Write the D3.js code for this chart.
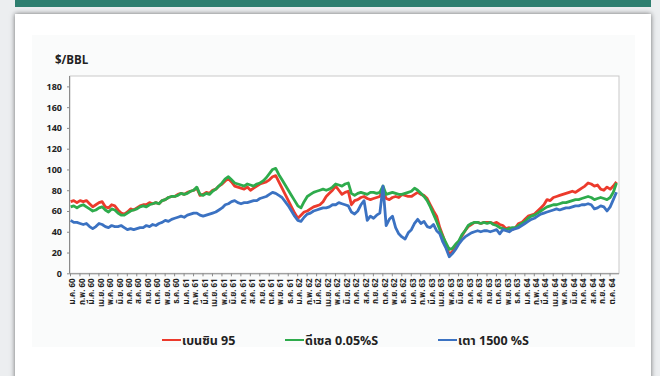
<!DOCTYPE html>
<html>
<head>
<meta charset="utf-8">
<script src="https://cdn.jsdelivr.net/npm/d3@7"></script>
<style>
  html, body { margin: 0; padding: 0; }
  body { width: 660px; height: 376px; overflow: hidden; background: #eceef0; position: relative; }
  #bar { position: absolute; left: 15px; top: 0; width: 636px; height: 7px; background: #2e7f70; }
  #card { position: absolute; left: 15px; top: 14px; width: 636px; height: 380px; background: #fff;
          box-shadow: 0 0 5px rgba(0,0,0,0.55); }
  svg { position: absolute; left: 0; top: 0; }
  text { font-family: Tahoma, "Noto Sans Thai", "Leelawadee UI", "DejaVu Sans", sans-serif; }
</style>
</head>
<body>
<div id="bar"></div>
<div id="card"></div>
<svg id="chart" width="660" height="376"></svg>
<script>
// Thai month abbreviations and Buddhist-era years (2-digit) on the time axis
const monthNames = ["ม.ค.", "ก.พ.", "มี.ค.", "เม.ย.", "พ.ค.", "มิ.ย.", "ก.ค.", "ส.ค.", "ก.ย.", "ต.ค.", "พ.ย.", "ธ.ค."];
const years = ["60", "61", "62", "63", "64"];
const monthCount = 58; // ม.ค. 60 … ต.ค. 64
const samplesPerMonth = 3;

const yTicks = [0, 20, 40, 60, 80, 100, 120, 140, 160, 180];

const seriesNames = ["เบนซิน 95", "ดีเซล 0.05%S", "เตา 1500 %S"];
const seriesColors = ["#ec3a2c", "#2eab4c", "#3b72c2"];

// $/BBL, three readings per month
const gasoline95 = [
  69,70,68, 70,69,70, 67,64,66, 68,69,64, 63,66,65, 61,58,57, 59,62,61, 63,65,66, 66,68,67, 68,67,70, 71,73,74, 74,76,77,
  76,78,79, 80,82,75, 76,78,77, 80,81,84, 86,89,91, 88,84,83, 82,81,83, 80,82,84, 86,87,88, 90,93,94, 88,82,76, 70,64,58,
  53,56,59, 60,62,64, 65,66,69, 74,77,80, 84,80,76, 78,79,66, 70,71,73, 74,72,71, 72,73,74, 80,72,71, 73,74,73, 76,75,74,
  74,76,78, 76,75,72, 66,60,55, 44,36,27, 18,21,26, 30,36,41, 45,47,49, 49,48,49, 49,49,48, 49,47,46, 43,44,42, 44,48,49,
  52,55,56, 57,60,63, 66,71,70, 73,74,75, 76,77,78, 79,78,80, 82,84,87, 86,84,85, 81,80,83, 81,84,88
];
const diesel = [
  64,65,63, 65,66,64, 62,60,61, 63,64,61, 59,62,61, 58,56,56, 58,60,61, 62,64,65, 64,66,67, 68,67,70, 71,73,74, 74,75,77,
  76,77,79, 80,83,76, 75,77,76, 79,81,84, 87,91,93, 90,87,86, 85,84,86, 85,84,86, 87,89,92, 96,100,101, 95,90,85, 80,75,70,
  65,63,69, 74,76,78, 79,80,81, 80,81,83, 86,85,84, 86,87,77, 75,77,78, 77,76,78, 78,77,78, 84,76,77, 78,77,76, 76,77,78,
  79,82,80, 77,74,70, 64,57,50, 42,35,29, 23,24,28, 31,37,41, 46,48,49, 49,48,49, 48,49,47, 46,44,43, 42,43,44, 44,46,48,
  50,53,55, 56,58,60, 62,64,65, 66,66,67, 68,68,69, 70,71,71, 72,73,74, 73,71,72, 73,72,71, 73,78,87
];
const fuelOil = [
  51,49,49, 48,47,48, 45,43,45, 48,47,45, 44,46,45, 45,46,44, 42,43,42, 43,44,44, 46,45,47, 46,48,49, 51,50,52, 53,54,55,
  54,56,57, 58,58,56, 55,56,57, 58,59,61, 63,66,67, 69,70,68, 67,68,68, 69,70,70, 72,73,74, 76,78,77, 75,73,69, 65,60,55,
  51,50,54, 57,58,60, 61,62,63, 63,64,66, 66,68,67, 66,65,59, 57,60,66, 70,51,55, 53,56,58, 84,46,52, 55,44,38, 35,33,39,
  42,48,52, 48,50,45, 44,47,41, 38,30,24, 16,19,23, 28,32,35, 37,39,40, 41,40,41, 41,40,41, 42,38,42, 41,40,42, 43,44,46,
  48,50,52, 53,55,57, 58,59,60, 61,62,61, 62,63,63, 64,65,65, 66,66,67, 66,62,63, 65,64,60, 64,71,78
];

const svg = d3.select("#chart");

// light panel holding the chart
svg.append("rect").attr("x", 32).attr("y", 35).attr("width", 603).attr("height", 312).attr("fill", "#fafbfb");

const plot = { left: 70, right: 619, top: 76, bottom: 273.3 };
const x = d3.scaleLinear().domain([0, monthCount]).range([plot.left, plot.right]);
const y = d3.scaleLinear().domain([0, 190]).range([plot.bottom, plot.top]);

// plot frame
svg.append("rect")
  .attr("x", plot.left).attr("y", plot.top)
  .attr("width", plot.right - plot.left).attr("height", plot.bottom - plot.top)
  .attr("fill", "#ffffff").attr("stroke", "#c9c9c9").attr("stroke-width", 1);

// y axis
const yAxis = d3.axisLeft(y).tickValues(yTicks).tickSize(3).tickPadding(5);
const gy = svg.append("g").attr("transform", `translate(${plot.left},0)`).call(yAxis);
gy.select(".domain").attr("stroke", "#8a8a8a").attr("d", `M-0.5,${plot.top}V${plot.bottom}`);
gy.selectAll(".tick line").attr("stroke", "#8a8a8a");
gy.selectAll(".tick text").attr("font-size", 9).attr("font-weight", "bold").attr("fill", "#222");

// unit label
svg.append("text").attr("x", 55).attr("y", 64)
  .attr("font-size", 11.5).attr("font-weight", "bold").attr("fill", "#222").text("$/BBL");

// x axis: one tick per month
const monthLabels = [];
for (let i = 0; i < monthCount; i++) monthLabels.push(monthNames[i % 12] + " " + years[Math.floor(i / 12)]);
const xAxis = d3.axisBottom(x).tickValues(d3.range(monthCount)).tickSize(3).tickFormat(i => monthLabels[i]);
const gx = svg.append("g").attr("transform", `translate(0,${plot.bottom})`).call(xAxis);
gx.select(".domain").attr("stroke", "#8a8a8a").attr("d", `M${plot.left},0.5H${plot.right}`);
gx.selectAll(".tick line").attr("stroke", "#8a8a8a");
gx.selectAll(".tick text")
  .attr("font-size", 8).attr("font-weight", "bold").attr("fill", "#222")
  .attr("text-anchor", "end")
  .attr("transform", "translate(4.7,5) rotate(-90)")
  .attr("x", 0).attr("y", 0).attr("dy", 0);

// price lines
const allSeries = [gasoline95, diesel, fuelOil];
const line = d3.line()
  .x((d, i) => x(i / samplesPerMonth + 1 / (2 * samplesPerMonth) - 0.1))
  .y(d => y(d))
  .curve(d3.curveLinear);

allSeries.forEach((vals, s) => {
  svg.append("path")
    .datum(vals)
    .attr("fill", "none")
    .attr("stroke", seriesColors[s])
    .attr("stroke-width", 2.8)
    .attr("stroke-linejoin", "round")
    .attr("d", line);
});

// legend
const legendX = [162, 285, 438];
const legend = svg.append("g");
seriesNames.forEach((name, s) => {
  legend.append("line")
    .attr("x1", legendX[s]).attr("x2", legendX[s] + 19)
    .attr("y1", 340).attr("y2", 340)
    .attr("stroke", seriesColors[s]).attr("stroke-width", 2);
  legend.append("text")
    .attr("x", legendX[s] + 20).attr("y", 344.5)
    .attr("font-size", 12.5).attr("font-weight", "bold").attr("fill", "#222")
    .text(name);
});
</script>
</body>
</html>
